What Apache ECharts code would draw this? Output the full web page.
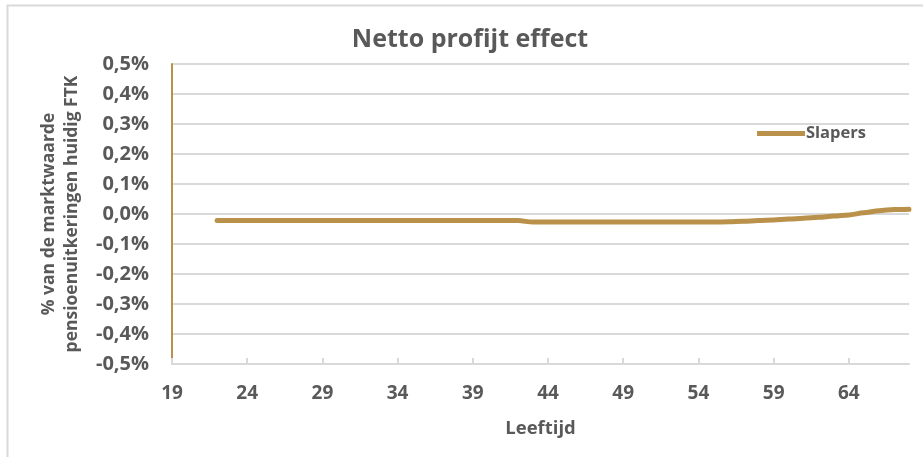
<!DOCTYPE html>
<html>
<head>
<meta charset="utf-8">
<script src="https://cdn.jsdelivr.net/npm/echarts@6/dist/echarts.min.js"></script>
<style>
html,body{margin:0;padding:0;background:#fff;}
#chart{width:923px;height:457px;}
</style>
</head>
<body>
<div id="chart"></div>
<script>
var ages = ['19','20','21','22','23','24','25','26','27','28','29','30','31','32','33','34','35','36','37','38','39','40','41','42','43','44','45','46','47','48','49','50','51','52','53','54','55','56','57','58','59','60','61','62','63','64','65','66','67','68'];
var slapers = [null,null,null,
  -0.022,-0.022,-0.022,-0.022,-0.022,-0.022,-0.022,-0.022,-0.022,-0.022,-0.022,-0.022,-0.022,-0.022,-0.022,-0.022,-0.022,-0.022,-0.022,-0.022,-0.022,
  -0.027,-0.027,-0.027,-0.027,-0.027,-0.027,-0.027,-0.027,-0.027,-0.027,-0.027,-0.027,-0.027,
  -0.026,-0.024,-0.022,-0.020,-0.017,-0.014,-0.011,-0.007,-0.003,0.004,0.011,0.015,0.016];
var seriesName = 'Slapers';
var titleText = 'Netto profijt effect';
var yAxisName = '% van de marktwaarde\npensioenuitkeringen huidig FTK';
var xAxisName = 'Leeftijd';

var gold = '#B9914B';
var grey = '#595959';
var lineGrey = '#D9D9D9';
var font = 'Open Sans';

var chart = echarts.init(document.getElementById('chart'));
chart.setOption({
  animation: false,
  backgroundColor: '#fff',
  graphic: [{
    type: 'rect', left: 5, top: 3, silent: true,
    shape: {width: 1000, height: 1000},
    style: {fill: 'none', stroke: lineGrey, lineWidth: 2}
  }],
  title: {
    text: titleText, left: 465, top: 22, textAlign: 'center',
    textStyle: {fontFamily: font, fontWeight: 'bold', fontSize: 25, color: grey}
  },
  legend: {
    data: [seriesName], left: 752, top: 120,
    icon: 'rect', itemWidth: 48, itemHeight: 5, itemGap: 10,
    textStyle: {fontFamily: font, fontWeight: 'bold', fontSize: 16.5, color: grey, padding: [0,0,0,-4]}
  },
  grid: {left: 172, right: 14, top: 64, bottom: 93, containLabel: false},
  xAxis: {
    type: 'category', data: ages, boundaryGap: false,
    name: xAxisName, nameLocation: 'middle', nameGap: 55,
    nameTextStyle: {fontFamily: font, fontWeight: 'bold', fontSize: 18.5, color: grey},
    axisLine: {show: true, onZero: false, lineStyle: {color: lineGrey, width: 2}},
    axisTick: {show: true, inside: true, length: 6, interval: 4, lineStyle: {color: lineGrey, width: 2}},
    axisLabel: {interval: 4, margin: 20, fontFamily: font, fontWeight: 'bold', fontSize: 19, color: grey},
    splitLine: {show: false}
  },
  yAxis: {
    type: 'value', min: -0.5, max: 0.5, interval: 0.1,
    name: yAxisName, nameLocation: 'middle', nameGap: 88, nameRotate: 90,
    nameTextStyle: {fontFamily: font, fontWeight: 'bold', fontSize: 17.5, color: grey, lineHeight: 23, align: 'center'},
    axisLine: {show: true, onZero: false, lineStyle: {color: gold, width: 2}},
    axisTick: {show: false},
    axisLabel: {
      margin: 23, fontFamily: font, fontWeight: 'bold', fontSize: 20, color: grey,
      formatter: function (v) {
        var s = (Math.abs(v) < 1e-9 ? 0 : v).toFixed(1).replace('.', ',');
        return s + '%';
      }
    },
    splitLine: {show: true, lineStyle: {color: lineGrey, width: 2}}
  },
  series: [{
    name: seriesName, type: 'line', data: slapers,
    smooth: 0.3, smoothMonotone: 'x', showSymbol: false, symbol: 'none',
    lineStyle: {color: gold, width: 5, cap: 'round'},
    itemStyle: {color: gold},
    connectNulls: false
  }]
});
</script>
</body>
</html>
